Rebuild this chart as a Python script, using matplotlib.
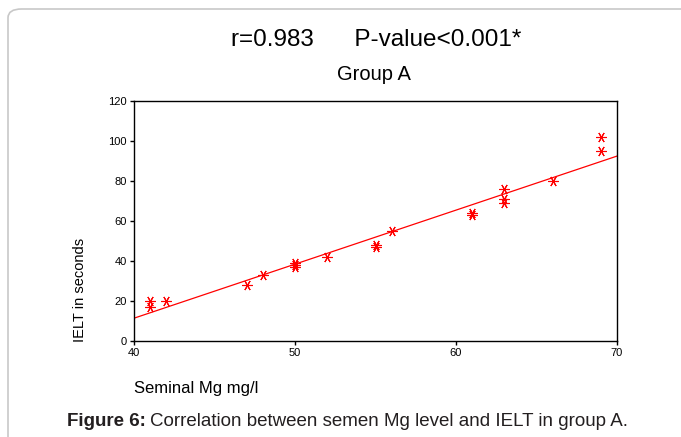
import matplotlib
matplotlib.use("Agg")
import matplotlib.pyplot as plt
from matplotlib.patches import FancyBboxPatch
import numpy as np

# data (Seminal Mg vs IELT, group A)
mg = [41, 41, 42, 47, 48, 50, 50, 50, 52, 55, 55, 56, 61, 61, 63, 63, 63, 66, 69, 69]
ielt = [20, 17, 20, 28, 33, 39, 38, 37, 42, 48, 47, 55, 64, 63, 76, 71, 69, 80, 102, 95]
xticks = [40, 50, 60, 70]
yticks = [0, 20, 40, 60, 80, 100, 120]

plt.rcParams['font.family'] = ['Liberation Sans', 'DejaVu Sans']

fig = plt.figure(figsize=(6.81, 4.37), dpi=100)

# page frame with rounded corner
frame = FancyBboxPatch((8 / 681, -0.2), 1.2, (437 - 9) / 437 + 0.2,
                       boxstyle="round,pad=0,rounding_size=0.02",
                       transform=fig.transFigure, fill=False,
                       edgecolor="#c8c8c8", linewidth=1.2)
fig.patches.append(frame)

ax = fig.add_axes([134 / 681, 1 - 341 / 437, (617 - 134) / 681, (341 - 101) / 437])

ax.plot(mg, ielt, linestyle='none', marker=(6, 2, 90), markersize=7.5,
        color='red', markeredgewidth=0.8)

# least squares fit line
b, a = np.polyfit(mg, ielt, 1)
xs = np.array([40, 70])
ax.plot(xs, a + b * xs, color='red', linewidth=0.9)

ax.set_xlim(40, 70)
ax.set_ylim(0, 120)
ax.set_xticks(xticks)
ax.set_yticks(yticks)
ax.tick_params(labelsize=8, length=3, width=1, direction='out', pad=2)
for s in ax.spines.values():
    s.set_linewidth(1.0)

fig.text(134 / 681, 1 - 389 / 437, "Seminal Mg mg/l", fontsize=12, ha='left', va='center')
fig.text(80 / 681, 1 - 290 / 437, "IELT in seconds", fontsize=10.5, rotation=90,
         ha='center', va='center')

fig.text(376 / 681, 1 - 40 / 437, "r=0.983      P-value<0.001*", fontsize=17.5,
         ha='center', va='center')
fig.text(374 / 681, 1 - 75 / 437, "Group A", fontsize=14.5, ha='center', va='center')

# caption: bold label followed by regular text
cap_y = 1 - 422 / 437
t1 = fig.text(67 / 681, cap_y, "Figure 6:", fontsize=13.5, fontweight='bold',
              ha='left', va='center', color='#231f20')
fig.canvas.draw()
bb = t1.get_window_extent()
x2 = (bb.x1 + 4) / fig.bbox.width
fig.text(x2, cap_y, "Correlation between semen Mg level and IELT in group A.",
         fontsize=13.5, ha='left', va='center', color='#231f20')

fig.savefig("out.png", dpi=100)
